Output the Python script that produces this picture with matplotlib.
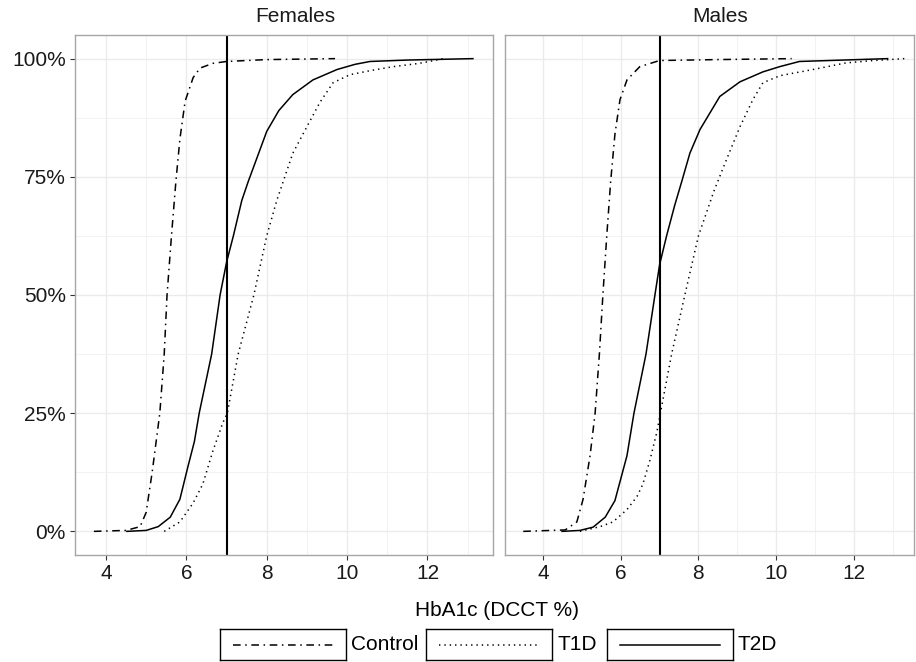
import numpy as np
import matplotlib.pyplot as plt
from matplotlib.ticker import FixedLocator, PercentFormatter

plt.rcParams['font.family'] = ['Liberation Sans', 'DejaVu Sans']

# ECDF curves (HbA1c %, cumulative fraction)
f_control_x = [3.7, 4.5, 4.85, 5.0, 5.15, 5.34, 5.45, 5.52, 5.63, 5.74, 5.84, 5.97, 6.17, 6.34, 6.66, 7.0, 8.0, 9.7]
f_control_y = [0, 0.002, 0.01, 0.04, 0.125, 0.25, 0.375, 0.5, 0.625, 0.74, 0.83, 0.91, 0.96, 0.98, 0.99, 0.994, 0.998, 1.0]
f_t1d_x = [5.45, 5.84, 6.17, 6.41, 6.66, 6.91, 7.02, 7.29, 7.68, 8.0, 8.25, 8.39, 8.65, 9.0, 9.32, 9.65, 10.07, 10.6, 11.14, 11.8, 12.4]
f_t1d_y = [0, 0.02, 0.06, 0.10, 0.17, 0.23, 0.25, 0.375, 0.5, 0.625, 0.70, 0.735, 0.80, 0.856, 0.907, 0.949, 0.966, 0.975, 0.983, 0.99, 1.0]
f_t2d_x = [4.52, 5.0, 5.3, 5.6, 5.84, 6.04, 6.2, 6.32, 6.63, 6.84, 7.0, 7.17, 7.38, 7.54, 8.0, 8.3, 8.65, 9.15, 9.75, 10.2, 10.57, 11.5, 13.13]
f_t2d_y = [0, 0.002, 0.01, 0.03, 0.068, 0.137, 0.19, 0.25, 0.375, 0.5, 0.569, 0.625, 0.70, 0.74, 0.846, 0.89, 0.924, 0.955, 0.977, 0.988, 0.994, 0.997, 1.0]

m_control_x = [3.49, 4.57, 4.87, 5.03, 5.21, 5.34, 5.45, 5.54, 5.64, 5.74, 5.85, 5.98, 6.16, 6.49, 7.0, 8.5, 10.4]
m_control_y = [0, 0.003, 0.02, 0.068, 0.16, 0.25, 0.375, 0.5, 0.625, 0.74, 0.84, 0.913, 0.955, 0.983, 0.996, 0.998, 1.0]
m_t1d_x = [4.95, 5.47, 5.8, 6.16, 6.42, 6.57, 6.75, 6.93, 7.02, 7.31, 7.65, 8.0, 8.4, 8.72, 9.07, 9.4, 9.66, 10.1, 10.95, 11.8, 12.5, 13.3]
m_t1d_y = [0, 0.01, 0.02, 0.046, 0.074, 0.10, 0.15, 0.21, 0.25, 0.375, 0.5, 0.625, 0.72, 0.786, 0.856, 0.913, 0.949, 0.964, 0.977, 0.991, 0.996, 1.0]
m_t2d_x = [4.49, 4.95, 5.29, 5.6, 5.85, 6.16, 6.34, 6.65, 6.88, 7.0, 7.18, 7.39, 7.57, 7.78, 8.04, 8.55, 9.07, 9.66, 10.09, 10.6, 12.87]
m_t2d_y = [0, 0.002, 0.009, 0.03, 0.065, 0.16, 0.25, 0.375, 0.5, 0.564, 0.625, 0.69, 0.74, 0.80, 0.85, 0.92, 0.951, 0.972, 0.983, 0.994, 1.0]

groups = ["Control", "T1D", "T2D"]
panels = ["Females", "Males"]
cutoff = 7.0

styles = {
    "Control": (0, (5, 3, 1, 3)),
    "T1D": (0, (0.9, 2.6)),
    "T2D": "-",
}

data = {
    "Females": {"Control": (f_control_x, f_control_y), "T1D": (f_t1d_x, f_t1d_y), "T2D": (f_t2d_x, f_t2d_y)},
    "Males": {"Control": (m_control_x, m_control_y), "T1D": (m_t1d_x, m_t1d_y), "T2D": (m_t2d_x, m_t2d_y)},
}

W, H = 916, 662
FS = 15
fig = plt.figure(figsize=(W / 100, H / 100), dpi=100)


def px_axes(x0, y0, w, h):
    return fig.add_axes([x0 / W, (H - y0 - h) / H, w / W, h / H])


boxes = {"Females": (75, 35, 418, 520), "Males": (505, 35, 409, 520)}
xlims = {"Females": (3.23, 13.63), "Males": (3.02, 13.55)}

for name in panels:
    ax = px_axes(*boxes[name])
    ax.set_xlim(*xlims[name])
    ax.set_ylim(-0.05, 1.05)
    ax.xaxis.set_major_locator(FixedLocator([4, 6, 8, 10, 12]))
    ax.xaxis.set_minor_locator(FixedLocator([3, 5, 7, 9, 11, 13]))
    ax.yaxis.set_major_locator(FixedLocator([0, 0.25, 0.5, 0.75, 1.0]))
    ax.yaxis.set_minor_locator(FixedLocator([0.125, 0.375, 0.625, 0.875]))
    ax.yaxis.set_major_formatter(PercentFormatter(1.0, decimals=0))
    ax.grid(True, which="major", color="#EBEBEB", lw=1.0)
    ax.grid(True, which="minor", color="#F2F2F2", lw=0.7)
    ax.set_axisbelow(True)
    for s in ax.spines.values():
        s.set_color("#A6A6A6")
        s.set_linewidth(1.0)
    ax.tick_params(which="minor", length=0)
    ax.tick_params(which="major", length=3.5, width=0.8, color="#333333",
                   labelsize=FS, labelcolor="#1a1a1a", pad=3)
    if name == "Males":
        ax.tick_params(axis="y", left=False, labelleft=False)
    for g in groups:
        xs, ys = data[name][g]
        ax.plot(xs, ys, color="black", lw=1.1, linestyle=styles[g])
    ax.axvline(cutoff, color="black", lw=1.5)
    ax.text(0.526, 1.018, name, transform=ax.transAxes, ha="center", va="bottom",
            fontsize=FS, color="#1a1a1a")

fig.text(497 / W, 1 - 610 / H, "HbA1c (DCCT %)", ha="center", va="center",
         fontsize=FS, color="black")

# legend keys along the bottom
keys = [(220, "Control"), (426, "T1D"), (607, "T2D")]
for x0, g in keys:
    kax = px_axes(x0, 629, 126, 31)
    kax.set_xlim(0, 1)
    kax.set_ylim(0, 1)
    kax.set_xticks([])
    kax.set_yticks([])
    for s in kax.spines.values():
        s.set_color("black")
        s.set_linewidth(1.0)
    kax.plot([0.1, 0.9], [0.5, 0.5], color="black", lw=1.1, linestyle=styles[g])
    fig.text((x0 + 131) / W, 1 - 645 / H, g, ha="left", va="center",
             fontsize=FS, color="black")

fig.savefig("out.png", dpi=100)
